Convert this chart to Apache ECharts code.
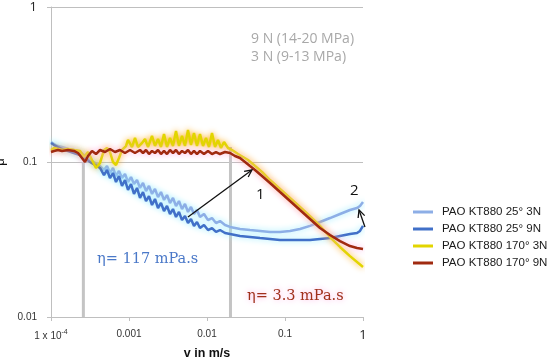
<!DOCTYPE html>
<html><head><meta charset="utf-8">
<script src="https://cdn.jsdelivr.net/npm/echarts@6/dist/echarts.min.js"></script>
<style>html,body{margin:0;padding:0;background:#fff}#c{width:550px;height:362px}</style>
</head><body><div id="c"></div>
<script>
const seriesNames = ['PAO KT880 25° 3N','PAO KT880 25° 9N','PAO KT880 170° 3N','PAO KT880 170° 9N'];

const v25_3N = [1.00e-4,1.093e-4,1.229e-4,1.384e-4,1.652e-4,1.972e-4,2.354e-4,2.729e-4,3.162e-4,3.666e-4,4.249e-4,4.781e-4,5.223e-4,5.706e-4,6.234e-4,6.812e-4,7.442e-4,8.132e-4,8.887e-4,9.710e-4,1.061e-3,1.159e-3,1.267e-3,1.384e-3,1.512e-3,1.652e-3,1.805e-3,1.972e-3,2.154e-3,2.354e-3,2.572e-3,2.811e-3,3.071e-3,3.355e-3,3.666e-3,4.005e-3,4.375e-3,4.781e-3,5.223e-3,5.706e-3,6.234e-3,6.812e-3,7.442e-3,8.132e-3,9.153e-3,1.030e-2,1.159e-2,1.304e-2,1.468e-2,1.701e-2,1.972e-2,2.650e-2,3.559e-2,4.781e-2,6.424e-2,8.627e-2,0.1159,0.1557,0.2092,0.2811,0.3776,0.5071,0.6812,0.8377,0.9153,1.0];
const mu25_3N = [0.1346,0.1306,0.1268,0.1249,0.1213,0.1195,0.1160,0.1093,0.1030,0.0986,0.0942,0.0888,0.0942,0.0849,0.0915,0.0812,0.0875,0.0788,0.0837,0.0743,0.0800,0.0721,0.0765,0.0680,0.0732,0.0650,0.0700,0.0622,0.0670,0.0594,0.0640,0.0569,0.0612,0.0544,0.0586,0.0520,0.0560,0.0497,0.0536,0.0476,0.0513,0.0462,0.0490,0.0442,0.0462,0.0422,0.0435,0.0404,0.0416,0.0392,0.0381,0.0370,0.0364,0.0359,0.0354,0.0354,0.0359,0.0370,0.0387,0.0410,0.0435,0.0462,0.0490,0.0505,0.0520,0.0552];

const v25_9N = [1.00e-4,1.093e-4,1.229e-4,1.384e-4,1.652e-4,1.972e-4,2.354e-4,2.729e-4,3.162e-4,3.666e-4,4.249e-4,4.781e-4,5.223e-4,5.706e-4,6.234e-4,6.812e-4,7.442e-4,8.132e-4,8.887e-4,9.710e-4,1.061e-3,1.159e-3,1.267e-3,1.384e-3,1.512e-3,1.652e-3,1.805e-3,1.972e-3,2.154e-3,2.354e-3,2.572e-3,2.811e-3,3.071e-3,3.355e-3,3.666e-3,4.005e-3,4.375e-3,4.781e-3,5.223e-3,5.706e-3,6.234e-3,6.812e-3,7.442e-3,8.132e-3,9.153e-3,1.030e-2,1.159e-2,1.304e-2,1.468e-2,1.701e-2,1.972e-2,2.650e-2,3.559e-2,4.781e-2,6.424e-2,8.627e-2,0.1159,0.1557,0.2092,0.2811,0.3776,0.5071,0.6812,0.8377,0.9153,1.0];
const mu25_9N = [0.1326,0.1287,0.1249,0.1213,0.1178,0.1143,0.1110,0.1061,0.1000,0.0956,0.0915,0.0824,0.0888,0.0788,0.0849,0.0743,0.0812,0.0700,0.0765,0.0660,0.0721,0.0622,0.0680,0.0586,0.0640,0.0560,0.0603,0.0528,0.0577,0.0505,0.0544,0.0483,0.0520,0.0462,0.0497,0.0442,0.0476,0.0422,0.0448,0.0404,0.0429,0.0387,0.0410,0.0375,0.0392,0.0364,0.0375,0.0354,0.0364,0.0348,0.0343,0.0333,0.0328,0.0323,0.0319,0.0314,0.0314,0.0314,0.0314,0.0319,0.0323,0.0333,0.0343,0.0348,0.0359,0.0387];

const v170_3N = [1.00e-4,1.093e-4,1.229e-4,1.384e-4,1.652e-4,1.972e-4,2.354e-4,2.650e-4,2.982e-4,3.355e-4,3.776e-4,4.249e-4,4.781e-4,5.223e-4,5.706e-4,6.234e-4,6.812e-4,7.442e-4,8.132e-4,9.153e-4,9.710e-4,1.093e-3,1.194e-3,1.304e-3,1.468e-3,1.604e-3,1.753e-3,1.972e-3,2.154e-3,2.354e-3,2.572e-3,2.811e-3,3.071e-3,3.355e-3,3.666e-3,4.005e-3,4.375e-3,4.781e-3,5.223e-3,5.706e-3,6.234e-3,6.812e-3,7.442e-3,8.132e-3,8.887e-3,9.710e-3,1.061e-2,1.159e-2,1.267e-2,1.384e-2,1.512e-2,1.652e-2,1.859e-2,2.092e-2,2.497e-2,2.894e-2,3.355e-2,4.125e-2,5.071e-2,6.424e-2,8.627e-2,0.1159,0.1557,0.2092,0.2811,0.3776,0.5071,0.6812,1.0];
const mu170_3N = [0.1195,0.1231,0.1213,0.1195,0.1213,0.1195,0.1178,0.1077,0.1160,0.1030,0.0915,0.0986,0.1195,0.1231,0.1160,0.1000,0.0956,0.1061,0.1195,0.1268,0.1387,0.1249,0.1428,0.1249,0.1326,0.1407,0.1249,0.1472,0.1268,0.1407,0.1249,0.1516,0.1249,0.1428,0.1268,0.1585,0.1268,0.1472,0.1268,0.1609,0.1287,0.1539,0.1268,0.1516,0.1268,0.1428,0.1249,0.1539,0.1249,0.1387,0.1231,0.1346,0.1231,0.1195,0.1126,0.1077,0.1030,0.0942,0.0862,0.0765,0.0670,0.0586,0.0513,0.0448,0.0387,0.0328,0.0283,0.0247,0.0210];

const v170_9N = [1.00e-4,1.093e-4,1.229e-4,1.384e-4,1.652e-4,1.972e-4,2.219e-4,2.497e-4,2.729e-4,2.982e-4,3.355e-4,3.776e-4,4.249e-4,4.923e-4,5.706e-4,6.614e-4,7.665e-4,8.887e-4,1.030e-3,1.194e-3,1.384e-3,1.512e-3,1.652e-3,1.805e-3,1.972e-3,2.154e-3,2.354e-3,2.572e-3,2.811e-3,3.071e-3,3.355e-3,3.666e-3,4.005e-3,4.375e-3,4.781e-3,5.223e-3,5.706e-3,6.234e-3,6.812e-3,7.442e-3,8.132e-3,9.153e-3,1.030e-2,1.159e-2,1.304e-2,1.468e-2,1.701e-2,1.972e-2,2.286e-2,2.650e-2,3.071e-2,3.559e-2,4.125e-2,5.071e-2,6.424e-2,8.627e-2,0.1159,0.1557,0.2092,0.2811,0.3776,0.5071,0.6812,0.8377,1.0];
const mu170_9N = [0.1160,0.1178,0.1195,0.1178,0.1195,0.1178,0.1143,0.1061,0.1000,0.1093,0.1178,0.1126,0.1195,0.1160,0.1213,0.1160,0.1195,0.1143,0.1195,0.1143,0.1195,0.1143,0.1195,0.1126,0.1178,0.1143,0.1195,0.1126,0.1178,0.1126,0.1195,0.1143,0.1195,0.1126,0.1178,0.1143,0.1195,0.1126,0.1178,0.1126,0.1178,0.1126,0.1178,0.1126,0.1160,0.1126,0.1160,0.1143,0.1093,0.1061,0.1000,0.0942,0.0888,0.0812,0.0732,0.0640,0.0560,0.0490,0.0429,0.0375,0.0338,0.0309,0.0287,0.0279,0.0275];

// vertical marker lines (v in m/s, mu range)
const markerV = [2.6e-4, 0.02];
const markerTop = [0.1, 0.125];
const markerBottom = 0.01;

// arrows [from, to] in data coords
const arrow1 = [[5.7e-3, 0.0442], [0.0377, 0.0888]];
const arrow2 = [[1.06, 0.0381], [0.889, 0.0490]];

const xTickLabels = ['1 x 10^-4', '0.001', '0.01', '0.1', '1'];
const yTickLabels = ['0.01', '0.1', '1'];

const zip = (a, b) => a.map((x, i) => [x, b[i]]);

const colors = ['#8DAEE6', '#4170C8', '#E2D500', '#A02A10'];
const glows = ['rgba(150,235,255,1)', 'rgba(150,235,255,1)', 'rgba(255,165,0,0.95)', 'rgba(255,170,225,1)'];
const datasets = [zip(v25_3N, mu25_3N), zip(v25_9N, mu25_9N), zip(v170_3N, mu170_3N), zip(v170_9N, mu170_9N)];

function xFmt(v) {
  const i = Math.round(Math.log10(v)) + 4;
  const s = xTickLabels[i];
  if (s === undefined) return '';
  if (s.indexOf('^') >= 0) { const p = s.split('^'); return p[0] + '{sup|' + p[1] + '}'; }
  if (s === '1') return '{big|1}';
  return s;
}
function yFmt(v) {
  const i = Math.round(Math.log10(v)) + 2;
  const s = yTickLabels[i];
  if (s === undefined) return '';
  if (s === '1') return '{big|1}';
  return s;
}

const chart = echarts.init(document.getElementById('c'));

const series = datasets.map((d, i) => ({
  name: seriesNames[i], type: 'line', data: d, symbol: 'none', smooth: false,
  z: 3 + i, color: colors[i],
  lineStyle: { width: 2.5, color: colors[i], shadowBlur: 6, shadowColor: glows[i] },
  emphasis: { disabled: true }, animation: false
}));
markerV.forEach((v, i) => {
  series.push({
    name: 'marker' + i, type: 'line', data: [[v, markerBottom], [v, markerTop[i]]],
    symbol: 'none', z: 1, silent: true,
    lineStyle: { width: 3, color: '#C4C4C4' }, animation: false
  });
});

const option = {
  animation: false,
  grid: { left: 51, right: 187, top: 7, bottom: 45, containLabel: false, outerBoundsMode: 'none' },
  legend: {
    data: seriesNames.map(n => ({ name: n, icon: 'rect' })), orient: 'vertical', left: 408, top: 200,
    itemWidth: 20, itemHeight: 3, itemGap: 3,
    textStyle: { fontFamily: 'Liberation Sans', fontSize: 11.5, color: '#1a1a1a', lineHeight: 14, padding: [0, 0, 0, 4] },
    selectedMode: false
  },
  xAxis: {
    type: 'log', logBase: 10, min: 1e-4, max: 1,
    name: 'v in m/s', nameLocation: 'middle', nameGap: 29,
    nameTextStyle: { fontFamily: 'Liberation Sans', fontWeight: 'bold', fontSize: 12.5, color: '#111' },
    axisLine: { lineStyle: { color: '#BFBFBF', width: 1 } },
    axisTick: { show: true, length: 4, lineStyle: { color: '#BFBFBF' } },
    minorTick: { show: false },
    splitLine: { show: false },
    axisLabel: {
      margin: 12, formatter: xFmt, fontFamily: 'Liberation Sans', fontSize: 10, color: '#333',
      rich: { sup: { fontSize: 7, padding: [0, 0, 7, 0], fontFamily: 'Liberation Sans', color: '#333' },
              big: { fontSize: 13, fontFamily: 'Open Sans', color: '#222' } }
    }
  },
  yAxis: {
    type: 'log', logBase: 10, min: 0.01, max: 1,
    name: 'μ', nameLocation: 'middle', nameGap: 37, nameRotate: 90,
    nameTextStyle: { fontFamily: 'Liberation Sans', fontSize: 13, color: '#111' },
    axisLine: { show: true, lineStyle: { color: '#BFBFBF', width: 1 } },
    axisTick: { show: true, length: 4, lineStyle: { color: '#BFBFBF' } },
    minorTick: { show: false },
    splitLine: { show: true, lineStyle: { color: '#BFBFBF', width: 1 } },
    axisLabel: {
      margin: 14, formatter: yFmt, fontFamily: 'Liberation Sans', fontSize: 10, color: '#333',
      rich: { big: { fontSize: 13, fontFamily: 'Open Sans', color: '#222' } }
    }
  },
  series: series
};
chart.setOption(option);

function arrowGraphics(a) {
  const p0 = chart.convertToPixel({ gridIndex: 0 }, a[0]);
  const p1 = chart.convertToPixel({ gridIndex: 0 }, a[1]);
  const dx = p1[0] - p0[0], dy = p1[1] - p0[1];
  const L = Math.sqrt(dx * dx + dy * dy);
  const ux = dx / L, uy = dy / L;
  const hl = 8, ang = 0.45;
  const c = Math.cos(ang), s = Math.sin(ang);
  const h1 = [p1[0] - hl * (ux * c - uy * s), p1[1] - hl * (uy * c + ux * s)];
  const h2 = [p1[0] - hl * (ux * c + uy * s), p1[1] - hl * (uy * c - ux * s)];
  const st = { stroke: '#111', lineWidth: 1.3, fill: null };
  return [
    { type: 'polyline', shape: { points: [p0, p1] }, style: st, z: 20, silent: true },
    { type: 'polyline', shape: { points: [h1, p1, h2] }, style: st, z: 20, silent: true }
  ];
}

const texts = [
  { type: 'text', left: 251, top: 32, z: 20, style: { text: '9 N (14-20 MPa)', fill: '#A8A8A8', font: '14px "Open Sans"' } },
  { type: 'text', left: 251, top: 50, z: 20, style: { text: '3 N (9-13 MPa)', fill: '#A8A8A8', font: '14px "Open Sans"' } },
  { type: 'text', left: 97, top: 252, z: 20, style: { text: 'η= 117 mPa.s', fill: '#4A78C8', font: '14.5px "DejaVu Serif"' } },
  { type: 'text', left: 247, top: 289, z: 20, style: { text: 'η= 3.3 mPa.s', fill: '#A0301C', font: '14.5px "DejaVu Serif"', textShadowColor: 'rgba(255,160,220,1)', textShadowBlur: 6 } },
  { type: 'text', left: 256, top: 187, z: 20, style: { text: '1', fill: '#111', font: '15px "Open Sans"' } },
  { type: 'text', left: 350, top: 183, z: 20, style: { text: '2', fill: '#111', font: '15px "Open Sans"' } }
];

chart.setOption({ graphic: texts.concat(arrowGraphics(arrow1), arrowGraphics(arrow2)) });
</script>
</body></html>
